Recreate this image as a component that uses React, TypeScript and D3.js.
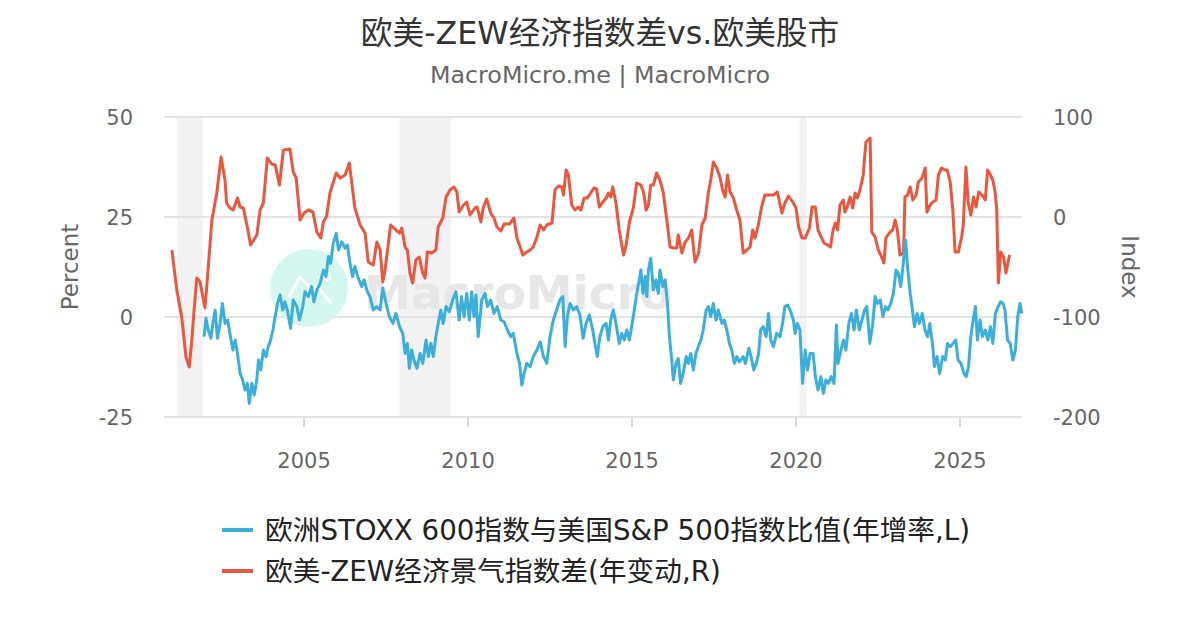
import React from 'react';
import * as d3 from 'd3';

// Year-over-year change of the EU-US ZEW sentiment gap (right axis)
const zewGap: [number, number][] = [
  [2000.97, -33], [2001.12, -73], [2001.27, -100], [2001.4, -140], [2001.5, -150], [2001.57, -126],
  [2001.68, -80], [2001.73, -61], [2001.83, -65], [2001.98, -91], [2002.08, -50], [2002.19, -3],
  [2002.34, 24], [2002.47, 60], [2002.59, 37], [2002.64, 14], [2002.74, 9], [2002.84, 7],
  [2002.97, 19], [2003.05, 10], [2003.15, 9], [2003.27, -10], [2003.37, -28], [2003.56, -18],
  [2003.66, 7], [2003.76, 14], [2003.88, 59], [2004.01, 53], [2004.12, 52], [2004.25, 32],
  [2004.37, 67], [2004.57, 68], [2004.67, 45], [2004.76, 39], [2004.88, -3], [2005.0, 4],
  [2005.13, 7], [2005.27, 5], [2005.39, -15], [2005.51, -21], [2005.59, -5], [2005.69, 1],
  [2005.79, 24], [2005.98, 44], [2006.1, 39], [2006.25, 42], [2006.38, 54], [2006.55, 9],
  [2006.71, -8], [2006.86, -16], [2006.96, -45], [2007.11, -48], [2007.22, -25], [2007.32, -33],
  [2007.4, -65], [2007.47, -53], [2007.64, -8], [2007.8, -13], [2007.91, -16], [2007.98, -11],
  [2008.08, -30], [2008.15, -33], [2008.23, -56], [2008.31, -66], [2008.41, -43], [2008.51, -40],
  [2008.62, -56], [2008.69, -61], [2008.76, -35], [2008.89, -36], [2009.02, -33], [2009.09, -10],
  [2009.23, -1], [2009.33, 20], [2009.45, 27], [2009.57, 30], [2009.66, 25], [2009.73, 5],
  [2009.86, 12], [2009.96, 15], [2010.06, 2], [2010.21, 9], [2010.28, 10], [2010.39, -5],
  [2010.47, 10], [2010.57, 18], [2010.69, 4], [2010.79, -1], [2010.88, -10], [2011.0, -14],
  [2011.1, -7], [2011.26, -7], [2011.4, -1], [2011.49, -21], [2011.59, -30], [2011.67, -38],
  [2011.79, -35], [2011.89, -33], [2011.99, -30], [2012.1, -20], [2012.2, -8], [2012.3, -13],
  [2012.4, -8], [2012.56, -6], [2012.65, 27], [2012.76, 31], [2012.86, 30], [2012.91, 22],
  [2012.99, 47], [2013.06, 42], [2013.16, 12], [2013.26, 7], [2013.36, 10], [2013.44, 7],
  [2013.54, 19], [2013.64, 19], [2013.74, 24], [2013.84, 29], [2013.92, 28], [2014.0, 10],
  [2014.11, 15], [2014.21, 19], [2014.28, 24], [2014.35, 20], [2014.41, 30], [2014.51, 14],
  [2014.61, -13], [2014.74, -38], [2014.82, -28], [2014.92, -5], [2015.04, 9], [2015.14, 34],
  [2015.27, 32], [2015.35, 25], [2015.43, 7], [2015.5, 12], [2015.57, 32], [2015.65, 32],
  [2015.75, 44], [2015.85, 37], [2015.95, 25], [2016.06, -3], [2016.16, -30], [2016.28, -31],
  [2016.36, -31], [2016.41, -18], [2016.52, -36], [2016.62, -25], [2016.72, -21], [2016.82, -13],
  [2016.92, -45], [2017.03, -36], [2017.13, -8], [2017.23, -1], [2017.33, 25], [2017.4, 37],
  [2017.48, 55], [2017.58, 49], [2017.68, 40], [2017.76, 27], [2017.84, 20], [2017.91, 42],
  [2017.99, 25], [2018.09, 19], [2018.19, 7], [2018.29, -3], [2018.39, -36], [2018.5, -33],
  [2018.6, -30], [2018.68, -13], [2018.75, -21], [2018.85, -8], [2018.95, 10], [2019.05, 22],
  [2019.21, 22], [2019.31, 22], [2019.43, 25], [2019.57, 4], [2019.66, 14], [2019.77, 21],
  [2019.9, 15], [2020.0, 9], [2020.08, -10], [2020.18, -21], [2020.28, -21], [2020.41, -11],
  [2020.49, 10], [2020.59, 10], [2020.67, -13], [2020.77, -20], [2020.85, -26], [2020.97, -28],
  [2021.05, -30], [2021.13, -13], [2021.2, -6], [2021.27, -13], [2021.34, 12], [2021.44, 17],
  [2021.49, 5], [2021.56, 10], [2021.65, 20], [2021.73, 9], [2021.8, 24], [2021.87, 19],
  [2021.95, 27], [2022.05, 42], [2022.13, 75], [2022.26, 79], [2022.31, -15], [2022.41, -20],
  [2022.51, -33], [2022.61, -40], [2022.68, -46], [2022.74, -21], [2022.84, -16], [2022.95, -13],
  [2023.02, -3], [2023.09, -13], [2023.17, -38], [2023.28, -36], [2023.32, 20], [2023.4, 22],
  [2023.48, 30], [2023.56, 17], [2023.66, 22], [2023.73, 35], [2023.84, 39], [2023.94, 49],
  [2023.99, 5], [2024.09, 12], [2024.17, 15], [2024.27, 17], [2024.34, 42], [2024.44, 49],
  [2024.54, 47], [2024.61, 47], [2024.7, 35], [2024.78, 7], [2024.85, -35], [2024.95, -35],
  [2025.05, -20], [2025.1, -8], [2025.18, 50], [2025.25, 14], [2025.33, 2], [2025.41, 20],
  [2025.49, 10], [2025.57, 25], [2025.67, 22], [2025.77, 17], [2025.84, 47], [2025.9, 44],
  [2026.0, 37], [2026.07, 25], [2026.12, 7], [2026.17, -66], [2026.24, -35], [2026.33, -40],
  [2026.4, -56], [2026.51, -38],
];

// STOXX 600 / S&P 500 ratio, YoY % (left axis)
const stoxxRatio: [number, number][] = [
  [2001.95, -4.9], [2002.01, -0.3], [2002.08, -3.3], [2002.16, -5.3], [2002.22, -1.6], [2002.29, 1.7],
  [2002.36, -5.3], [2002.44, -1.6], [2002.51, 3.4], [2002.59, -1.6], [2002.67, -0.75], [2002.74, -4.1],
  [2002.83, -8.25], [2002.9, -5.75], [2002.97, -9.1], [2003.05, -14.1], [2003.13, -15.75], [2003.2, -18.25],
  [2003.27, -16.6], [2003.33, -21.6], [2003.41, -16.6], [2003.48, -19.5], [2003.56, -15.75], [2003.61, -10.75],
  [2003.68, -13.25], [2003.76, -8.25], [2003.84, -9.9], [2003.91, -7.4], [2003.98, -5.75], [2004.05, -3.25],
  [2004.12, 0.1], [2004.19, 3.4], [2004.27, 5.5], [2004.35, 1.75], [2004.42, 3.8], [2004.49, 1.75],
  [2004.59, -2.8], [2004.67, 4.25], [2004.78, 2.6], [2004.86, -0.75], [2004.96, 2.6], [2005.03, 6.3],
  [2005.13, 5.1], [2005.23, 7.6], [2005.3, 3.8], [2005.39, 6.75], [2005.49, 8.4], [2005.59, 11.75],
  [2005.67, 10.1], [2005.74, 15.1], [2005.81, 13.4], [2005.89, 18.4], [2005.98, 20.9], [2006.05, 16.75],
  [2006.15, 18.8], [2006.25, 17.2], [2006.32, 18], [2006.4, 13.4], [2006.48, 10.1], [2006.55, 12.6],
  [2006.66, 9.6], [2006.76, 7.6], [2006.83, 9.25], [2006.93, 6.3], [2007.01, 5.1], [2007.11, 1.75],
  [2007.21, 2.6], [2007.32, 1.75], [2007.4, 7.2], [2007.5, 3.4], [2007.6, 0.1], [2007.71, -1.6],
  [2007.8, 0.9], [2007.91, -2.4], [2008.01, -4.1], [2008.08, -9.1], [2008.15, -6.6], [2008.21, -12.8],
  [2008.28, -8.25], [2008.35, -10.75], [2008.44, -12.8], [2008.54, -9.1], [2008.62, -11.6], [2008.72, -5.75],
  [2008.79, -9.9], [2008.87, -6.6], [2008.94, -9.9], [2009.02, -4.9], [2009.09, -1.6], [2009.17, 1.75],
  [2009.24, -1.6], [2009.33, 2.6], [2009.43, 1.3], [2009.53, 4.25], [2009.63, 6.3], [2009.73, -0.75],
  [2009.8, 5.1], [2009.88, 0.1], [2009.96, 5.9], [2010.04, -0.75], [2010.11, 6.3], [2010.18, 0.1],
  [2010.24, 5.5], [2010.31, -4.9], [2010.42, 4.25], [2010.52, 5.9], [2010.59, 2.6], [2010.69, 4.25],
  [2010.79, 0.9], [2010.89, 2.6], [2011.0, -0.75], [2011.1, -1.2], [2011.2, -3.25], [2011.3, -4.9],
  [2011.38, -4.1], [2011.49, -9.1], [2011.57, -11.6], [2011.64, -17], [2011.71, -14.1], [2011.79, -11.6],
  [2011.89, -12.4], [2011.99, -9.9], [2012.1, -8.25], [2012.2, -6.2], [2012.3, -9.9], [2012.4, -11.6],
  [2012.5, -4.9], [2012.6, -0.75], [2012.7, 1.75], [2012.8, 4.25], [2012.89, 5.1], [2012.96, -7.4],
  [2013.03, 0.1], [2013.11, 3.4], [2013.21, 1.75], [2013.31, 2.6], [2013.41, 0.5], [2013.51, -5.3],
  [2013.6, -1.6], [2013.7, 0.5], [2013.8, -3.25], [2013.87, -6.6], [2013.94, -9.9], [2014.02, -4.9],
  [2014.11, -2.4], [2014.21, -1.6], [2014.28, -5.75], [2014.35, -0.75], [2014.43, 1.75], [2014.51, -1.6],
  [2014.61, -6.6], [2014.69, -4.1], [2014.76, -5.75], [2014.84, -3.25], [2014.92, -5.75], [2014.99, -2.4],
  [2015.04, 0.1], [2015.13, 5.1], [2015.2, 8.4], [2015.27, 11.75], [2015.33, 5.9], [2015.4, 10.1],
  [2015.45, 5.1], [2015.5, 11.75], [2015.57, 14.7], [2015.65, 6.75], [2015.73, 9.25], [2015.8, 5.9],
  [2015.85, 11.75], [2015.94, 7.6], [2016.01, 9.25], [2016.08, 3.4], [2016.14, -4.9], [2016.21, -10.75],
  [2016.26, -15.75], [2016.34, -11.6], [2016.41, -10.4], [2016.48, -16.6], [2016.56, -14.1], [2016.65, -9.9],
  [2016.72, -11.6], [2016.79, -9.1], [2016.87, -13.25], [2016.95, -9.1], [2017.02, -7.4], [2017.1, -5.75],
  [2017.17, -3.25], [2017.26, 1.75], [2017.33, 2.6], [2017.4, 0.1], [2017.48, 3.4], [2017.56, -0.75],
  [2017.63, 1.75], [2017.74, -1.6], [2017.81, -0.75], [2017.89, -3.25], [2017.97, -6.6], [2018.04, -8.25],
  [2018.12, -11.6], [2018.2, -9.9], [2018.27, -11.2], [2018.39, -9.9], [2018.46, -11.6], [2018.56, -7.8],
  [2018.63, -9.9], [2018.71, -13.25], [2018.79, -11.6], [2018.86, -9.1], [2018.92, -3.25], [2019.0, -2.4],
  [2019.09, -4.9], [2019.16, 0.9], [2019.23, -5.75], [2019.31, -7.4], [2019.41, -4.1], [2019.51, -4.9],
  [2019.59, -1.6], [2019.66, 2.6], [2019.74, 3], [2019.82, 1.75], [2019.92, -0.75], [2019.97, -4.1],
  [2020.04, -1.6], [2020.12, -3.25], [2020.2, -16.6], [2020.28, -8.25], [2020.35, -13.25], [2020.43, -9.1],
  [2020.52, -9.1], [2020.59, -14.9], [2020.67, -18.25], [2020.76, -14.9], [2020.83, -19.1], [2020.91, -15.75],
  [2020.99, -16.6], [2021.07, -14.9], [2021.16, -16.6], [2021.23, -2], [2021.28, -11.6], [2021.37, -8.25],
  [2021.45, -5.75], [2021.52, -8.25], [2021.61, -1.6], [2021.69, 0.9], [2021.77, -3.25], [2021.84, 1.75],
  [2021.93, -3.25], [2022.01, -0.75], [2022.09, 1.75], [2022.16, 2.6], [2022.25, -6.6], [2022.34, -1.6],
  [2022.41, 5.1], [2022.48, 3.4], [2022.57, 4.25], [2022.65, 0.1], [2022.73, 2.6], [2022.8, 1.75],
  [2022.89, 3.4], [2022.97, 5.9], [2023.05, 11.75], [2023.12, 10.9], [2023.19, 7.6], [2023.26, 12.6],
  [2023.34, 19.25], [2023.4, 12.6], [2023.48, 5.9], [2023.55, 1.75], [2023.61, -2.4], [2023.69, 0.9],
  [2023.76, -1.6], [2023.85, 0.9], [2023.93, -3.25], [2024.01, -4.9], [2024.08, -1.6], [2024.17, -7.4],
  [2024.22, -12.4], [2024.3, -9.9], [2024.38, -14.1], [2024.47, -9.9], [2024.55, -10.75], [2024.62, -6.6],
  [2024.7, -7.4], [2024.79, -6.6], [2024.87, -5.75], [2024.94, -10.75], [2025.03, -11.6], [2025.12, -14.1],
  [2025.19, -14.9], [2025.26, -12.4], [2025.33, -4.9], [2025.4, -0.75], [2025.47, 2.6], [2025.53, -5.75],
  [2025.61, -0.75], [2025.68, -4.9], [2025.77, -3.25], [2025.85, -5.75], [2025.93, -2.4], [2026.0, -6.6],
  [2026.08, 0.9], [2026.16, 2.6], [2026.24, 3.8], [2026.31, 3.4], [2026.37, 1.75], [2026.45, -5.75],
  [2026.53, -6.6], [2026.61, -10.75], [2026.69, -8.25], [2026.76, 0.1], [2026.83, 3.4], [2026.88, 0.9],
];

// US recession periods (shaded)
const recessions: [number, number][] = [
  [2001.13, 2001.91],
  [2007.91, 2009.48],
  [2020.1, 2020.33],
];

const xTicks = [2005, 2010, 2015, 2020, 2025];
const leftTicks = [-25, 0, 25, 50];
const rightTicks = [-200, -100, 0, 100];

const legendLabels = [
  '欧洲STOXX 600指数与美国S&P 500指数比值(年增率,L)',
  '欧美-ZEW经济景气指数差(年变动,R)',
];

const BLUE = '#3BAFDA';
const RED = '#E9573F';
const FONT = '"DejaVu Sans", "Noto Sans CJK SC", sans-serif';

const App: React.FC = () => {
  const width = 1200;
  const height = 630;
  const margin = { top: 117, right: 178, bottom: 213, left: 164 };
  const innerW = width - margin.left - margin.right;
  const innerH = height - margin.top - margin.bottom;

  const x = d3.scaleLinear().domain([2000.73, 2026.89]).range([margin.left, margin.left + innerW]);
  const yL = d3.scaleLinear().domain([-25, 50]).range([margin.top + innerH, margin.top]);
  const yR = d3.scaleLinear().domain([-200, 100]).range([margin.top + innerH, margin.top]);

  const lineL = d3
    .line<[number, number]>()
    .x((d) => x(d[0]))
    .y((d) => yL(d[1]));
  const lineR = d3
    .line<[number, number]>()
    .x((d) => x(d[0]))
    .y((d) => yR(d[1]));

  const plotBottom = margin.top + innerH;
  const plotRight = margin.left + innerW;
  const midY = margin.top + innerH / 2;

  return (
    <svg
      width={width}
      height={height}
      style={{ position: 'absolute', left: 0, top: 0, background: '#fff', fontFamily: FONT }}
    >
      {/* Title */}
      <text x={600} y={44} textAnchor="middle" fontSize={31.7} fill="#333">
        欧美-ZEW经济指数差vs.欧美股市
      </text>
      <text x={600} y={83} textAnchor="middle" fontSize={23.8} fill="#666">
        MacroMicro.me | MacroMicro
      </text>

      {/* Recession bands */}
      {recessions.map(([a, b]) => (
        <rect key={a} x={x(a)} y={margin.top} width={x(b) - x(a)} height={innerH} fill="#f2f2f2" />
      ))}

      {/* Grid */}
      {leftTicks.map((t) => (
        <line
          key={t}
          x1={margin.left}
          x2={plotRight}
          y1={yL(t)}
          y2={yL(t)}
          stroke="#e3e3e3"
          strokeWidth={2}
        />
      ))}

      {/* Watermark */}
      <g>
        <circle cx={309} cy={288} r={39} fill="#d5f6ee" />
        <path
          d="M289,297 L300,277 L312,290 M305,301 L317,286 L331,303"
          fill="none"
          stroke="#fff"
          strokeWidth={3}
          strokeLinejoin="round"
        />
        <circle cx={327} cy={277} r={3} fill="none" stroke="#fff" strokeWidth={2.5} />
        <text x={364} y={309} fontSize={47} fontWeight="bold" fill="#e6e6e6" fontFamily='"DejaVu Sans", sans-serif'>
          MacroMicro
        </text>
      </g>

      {/* X axis ticks */}
      {xTicks.map((t) => (
        <g key={t}>
          <line x1={x(t)} x2={x(t)} y1={plotBottom} y2={plotBottom + 10} stroke="#d9d9d9" strokeWidth={2} />
          <text x={x(t)} y={468} textAnchor="middle" fontSize={21} fill="#666">
            {t}
          </text>
        </g>
      ))}

      {/* Left axis */}
      {leftTicks.map((t) => (
        <text key={t} x={133} y={yL(t) + 8} textAnchor="end" fontSize={21} fill="#666">
          {t}
        </text>
      ))}
      <text
        transform={`translate(70,${midY}) rotate(-90)`}
        textAnchor="middle"
        dominantBaseline="central"
        fontSize={23}
        fill="#666"
      >
        Percent
      </text>

      {/* Right axis */}
      {rightTicks.map((t) => (
        <text key={t} x={1053} y={yR(t) + 8} textAnchor="start" fontSize={21} fill="#666">
          {t}
        </text>
      ))}
      <text
        transform={`translate(1130,${midY}) rotate(90)`}
        textAnchor="middle"
        dominantBaseline="central"
        fontSize={23}
        fill="#666"
      >
        Index
      </text>

      {/* Series */}
      <path d={lineR(zewGap) ?? ''} fill="none" stroke={RED} strokeWidth={3} strokeLinejoin="round" />
      <path d={lineL(stoxxRatio) ?? ''} fill="none" stroke={BLUE} strokeWidth={3} strokeLinejoin="round" />

      {/* Legend */}
      {legendLabels.map((label, i) => {
        const ly = 530 + i * 41;
        return (
          <g key={label}>
            <line x1={222} x2={253} y1={ly} y2={ly} stroke={i === 0 ? BLUE : RED} strokeWidth={4} />
            <text x={265} y={ly} dominantBaseline="central" fontSize={27.7} fill="#222">
              {label}
            </text>
          </g>
        );
      })}
    </svg>
  );
};

export default App;
